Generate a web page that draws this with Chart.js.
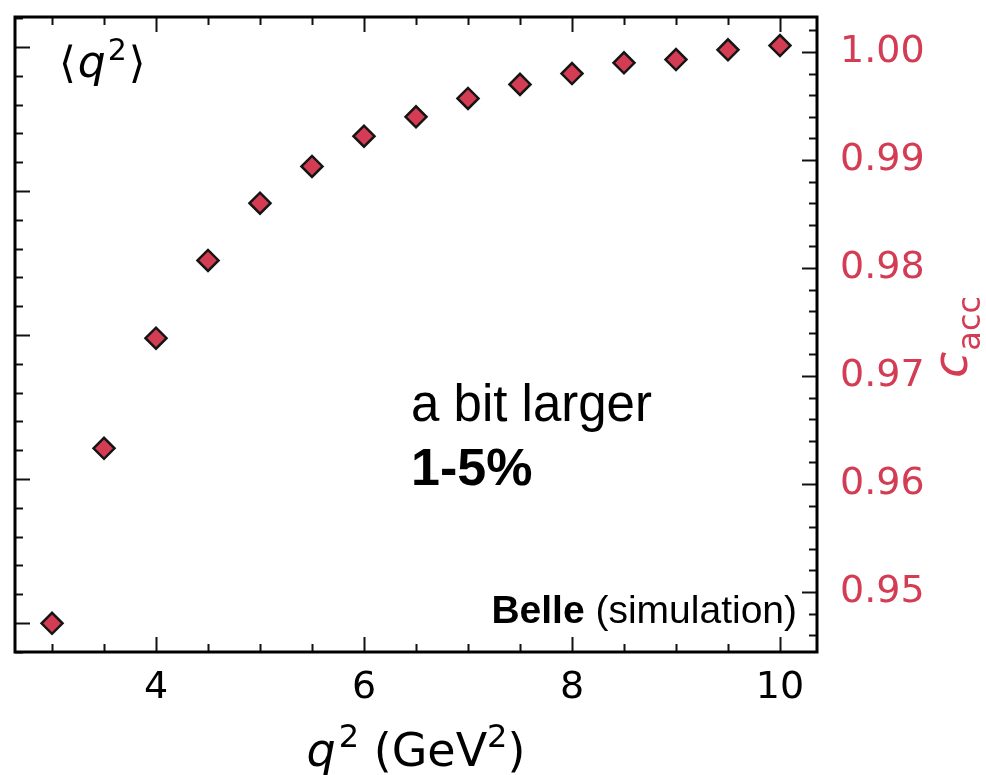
<!DOCTYPE html>
<html>
<head>
    <title>Acceptance correction vs q2</title>
    <script src="https://cdn.jsdelivr.net/npm/chart.js"></script>
    <style>
        body { margin: 0; background: #fff; }
        canvas { display: block; }
    </style>
</head>
<body>

<canvas id="cacc_chart" width="986" height="775"></canvas>

<script>
// q^2 bin centres (GeV^2) and acceptance correction factor
const q2Values = [3, 3.5, 4, 4.5, 5, 5.5, 6, 6.5, 7, 7.5, 8, 8.5, 9, 9.5, 10];
const cAccValues = [0.9471, 0.9633, 0.9735, 0.9807, 0.9860, 0.9894, 0.9922, 0.9940,
                    0.9957, 0.9970, 0.9980, 0.9990, 0.9993, 1.0002, 1.0006];

// axis ranges and tick steps
const xRange = [2.644, 10.356];
const xMajorStep = 2, xMinorStep = 0.5;
const yRange = [0.94444, 1.00324];
const yMajorStep = 0.01, yMinorStep = 0.002;
// left-hand axis (labels fall outside the canvas)
const leftRange = [-0.2014, 4.2083];
const leftMajorStep = 1, leftMinorStep = 0.2;

const RED = '#d33c52';

function stepValues(min, max, step) {
    const out = [];
    for (let k = Math.ceil(min / step - 1e-9); k <= Math.floor(max / step + 1e-9); k++) {
        out.push(k * step);
    }
    return out;
}

function isMajor(v, step) {
    return Math.abs(v / step - Math.round(v / step)) < 1e-6;
}

// draw a run of differently styled text pieces on one baseline
function drawRuns(ctx, runs, x, y, align) {
    let total = 0;
    runs.forEach(r => { ctx.font = r.font; r.w = ctx.measureText(r.text).width; total += r.w + (r.gap || 0); });
    let cx = align === 'center' ? x - total / 2 : align === 'right' ? x - total : x;
    ctx.textAlign = 'left';
    ctx.textBaseline = 'alphabetic';
    runs.forEach(r => {
        ctx.font = r.font;
        ctx.fillStyle = r.color || '#000';
        ctx.fillText(r.text, cx, y + (r.dy || 0));
        cx += r.w + (r.gap || 0);
    });
}

const framePlugin = {
    id: 'frame',
    afterDatasetsDraw(chart) {
        const ctx = chart.ctx;
        const a = chart.chartArea;
        const xs = chart.scales.x, ys = chart.scales.y, yl = chart.scales.yL;
        ctx.save();
        ctx.strokeStyle = '#111';
        ctx.lineCap = 'butt';

        // x ticks, bottom and top, pointing inward
        stepValues(xs.min, xs.max, xMinorStep).forEach(v => {
            const px = Math.round(xs.getPixelForValue(v)) + 0.5;
            const len = isMajor(v, xMajorStep) ? 15 : 8;
            ctx.lineWidth = 2;
            ctx.beginPath();
            ctx.moveTo(px, a.bottom); ctx.lineTo(px, a.bottom - len);
            ctx.moveTo(px, a.top); ctx.lineTo(px, a.top + len);
            ctx.stroke();
        });
        // right axis ticks
        stepValues(ys.min, ys.max, yMinorStep).forEach(v => {
            const py = Math.round(ys.getPixelForValue(v)) + 0.5;
            const len = isMajor(v, yMajorStep) ? 15 : 8;
            ctx.lineWidth = 2;
            ctx.beginPath();
            ctx.moveTo(a.right, py); ctx.lineTo(a.right - len, py);
            ctx.stroke();
        });
        // left axis ticks
        stepValues(yl.min, yl.max, leftMinorStep).forEach(v => {
            const py = Math.round(yl.getPixelForValue(v)) + 0.5;
            const len = isMajor(v, leftMajorStep) ? 15 : 8;
            ctx.lineWidth = 2;
            ctx.beginPath();
            ctx.moveTo(a.left, py); ctx.lineTo(a.left + len, py);
            ctx.stroke();
        });

        ctx.lineWidth = 3;
        ctx.strokeStyle = '#000';
        ctx.strokeRect(a.left, a.top, a.right - a.left, a.bottom - a.top);
        ctx.restore();
    },
    afterDraw(chart) {
        const ctx = chart.ctx;
        const a = chart.chartArea;
        ctx.save();

        // panel label <q^2>
        drawRuns(ctx, [
            { text: '\u27E8', font: '43px "DejaVu Sans"', gap: 2 },
            { text: 'q', font: 'italic 44px "DejaVu Sans"', gap: 2 },
            { text: '2', font: '30px "DejaVu Sans"', dy: -17, gap: 2 },
            { text: '\u27E9', font: '43px "DejaVu Sans"' }
        ], a.left + 44, 77, 'left');

        // x axis title
        drawRuns(ctx, [
            { text: 'q', font: 'italic 46px "DejaVu Sans"', gap: 3 },
            { text: '2', font: '32px "DejaVu Sans"', dy: -19 },
            { text: ' (GeV', font: '46px "DejaVu Sans"' },
            { text: '2', font: '32px "DejaVu Sans"', dy: -19 },
            { text: ')', font: '46px "DejaVu Sans"' }
        ], (a.left + a.right) / 2, 766, 'center');

        // annotation text
        drawRuns(ctx, [{ text: 'a bit larger', font: '51px "Liberation Sans"' }], 411, 421, 'left');
        drawRuns(ctx, [{ text: '1-5%', font: 'bold 52px "Liberation Sans"' }], 411, 485, 'left');
        drawRuns(ctx, [
            { text: 'Belle', font: 'bold 39px "Liberation Sans"' },
            { text: ' (simulation)', font: '39px "Liberation Sans"' }
        ], 797, 623, 'right');

        // right axis title c_acc, rotated
        ctx.translate(967, 337);
        ctx.rotate(-Math.PI / 2);
        drawRuns(ctx, [
            { text: 'c', font: 'italic 48px "DejaVu Sans"', color: RED, gap: 1 },
            { text: 'acc', font: '32px "DejaVu Sans"', dy: 13, color: RED }
        ], 0, 0, 'center');
        ctx.restore();
    }
};

const points = q2Values.map((x, i) => ({ x: x, y: cAccValues[i] }));

new Chart(document.getElementById('cacc_chart').getContext('2d'), {
    type: 'scatter',
    data: {
        datasets: [{
            label: 'c_acc',
            data: points,
            yAxisID: 'y',
            pointStyle: 'rectRot',
            pointRadius: 10.5,
            pointBorderWidth: 2.5,
            borderColor: '#151515',
            backgroundColor: RED,
            pointBackgroundColor: RED,
            pointBorderColor: '#151515',
            showLine: false
        }]
    },
    options: {
        responsive: false,
        animation: false,
        layout: { padding: { top: 17, left: 15, right: 0, bottom: 0 } },
        plugins: {
            legend: { display: false },
            tooltip: { enabled: false }
        },
        scales: {
            x: {
                type: 'linear',
                position: 'bottom',
                min: xRange[0],
                max: xRange[1],
                grid: { display: false, drawTicks: false },
                border: { display: false },
                ticks: {
                    stepSize: xMajorStep,
                    includeBounds: false,
                    padding: 13,
                    maxRotation: 0,
                    color: '#000',
                    font: { family: 'DejaVu Sans', size: 38 },
                    callback: v => String(v)
                },
                afterFit: s => { s.height = 123; s.paddingLeft = 0; s.paddingRight = 0; }
            },
            y: {
                type: 'linear',
                position: 'right',
                min: yRange[0],
                max: yRange[1],
                grid: { display: false, drawTicks: false },
                border: { display: false },
                ticks: {
                    stepSize: yMajorStep,
                    includeBounds: false,
                    padding: 23,
                    color: RED,
                    font: { family: 'DejaVu Sans', size: 38 },
                    callback: v => v.toFixed(2)
                },
                afterFit: s => { s.width = 169; s.paddingTop = 0; s.paddingBottom = 0; }
            },
            yL: {
                type: 'linear',
                position: 'left',
                display: false,
                min: leftRange[0],
                max: leftRange[1]
            }
        }
    },
    plugins: [framePlugin]
});
</script>

</body>
</html>
